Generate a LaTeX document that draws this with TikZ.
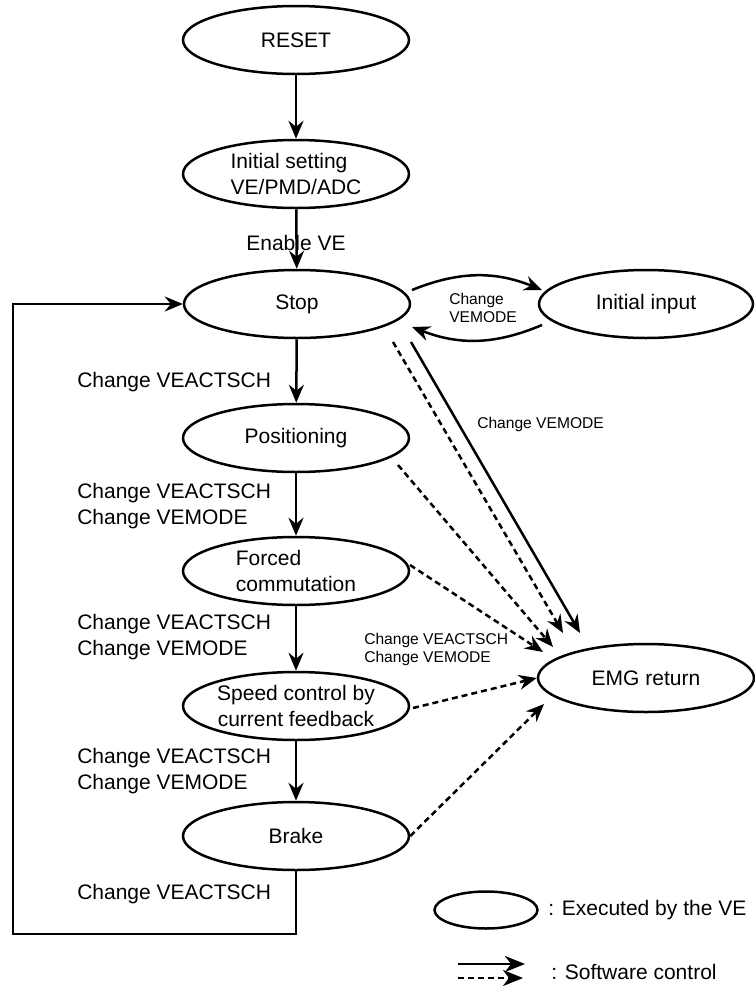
\documentclass[tikz,border=0pt]{standalone}
\usepackage{fontspec}
\setmainfont{Liberation Sans}
\usetikzlibrary{shapes.geometric,arrows.meta}
\begin{document}
\begin{tikzpicture}[x=0.5pt, y=-0.5pt, line width=1.25pt, >={Stealth[length=9pt,width=7.5pt,inset=3pt]},
  state/.style={draw, ellipse, minimum width=113pt, minimum height=34pt, inner sep=0pt, align=center, font=\fontsize{10.5}{13}\selectfont},
  lbl/.style={anchor=west, align=left, inner sep=0pt, font=\fontsize{10.5}{13}\selectfont},
  note/.style={anchor=west, align=left, inner sep=0pt, font=\fontsize{7.8}{9}\selectfont},
  sw/.style={dash pattern=on 3pt off 2pt}]
\useasboundingbox (0,0) rectangle (755,986);
% states
\node[state] (reset) at (296,40) {RESET};
\node[state, align=left] (init) at (296,174) {Initial setting\\VE/PMD/ADC};
\node[state] (stop) at (297,304) {Stop};
\node[state, minimum width=107pt] (input) at (646,304) {Initial input};
\node[state] (pos) at (296,438) {Positioning};
\node[state, align=left] (forced) at (296,571) {Forced\\commutation};
\node[state] (speed) at (296,706) {Speed control by\\current feedback};
\node[state] (brake) at (296,836) {Brake};
\node[state, minimum width=108pt] (emg) at (646,678) {EMG return};
% labels
\node[lbl, anchor=center] (en) at (296,243) {Enable VE};
\node[lbl] (l1) at (76,382) {Change VEACTSCH};
\node[lbl] (l2) at (76,506) {Change VEACTSCH\\Change VEMODE};
\node[lbl] (l3) at (76,637) {Change VEACTSCH\\Change VEMODE};
\node[lbl] (l4) at (76,771) {Change VEACTSCH\\Change VEMODE};
\node[lbl] (l5) at (76,894) {Change VEACTSCH};
\node[note] (n1) at (448,308) {Change\\VEMODE};
\node[note] (n2) at (476,424) {Change VEMODE};
\node[note] (n3) at (363,649) {Change VEACTSCH\\Change VEMODE};
% main flow
\draw[->] (reset) -- (init);
\draw[->] (init) -- (stop);
\draw[->] (stop) -- (pos);
\draw[->] (pos) -- (forced);
\draw[->] (forced) -- (speed);
\draw[->] (speed) -- (brake);
\coordinate (loop) at (13,934);
\draw[->] (brake.south) |- (loop) |- (stop.west);
% stop <-> initial input
\draw[->] ([shift={(115,-14)}]stop.center) to[bend left=22] ([shift={(-104,-14)}]input.center);
\draw[->] ([shift={(-104,21)}]input.center) to[bend left=22] ([shift={(115,23)}]stop.center);
% to EMG return
\draw[->] ([shift={(114,38)}]stop.center) -- ([shift={(-66,-45)}]emg.center);
\draw[->, sw] ([shift={(96,38)}]stop.center) -- ([shift={(-83,-45)}]emg.center);
\draw[->, sw] ([shift={(102,27)}]pos.center) -- ([shift={(-93,-31)}]emg.center);
\draw[->, sw] ([shift={(114,-6)}]forced.center) -- ([shift={(-103,-26)}]emg.center);
\draw[->, sw] ([shift={(117,2)}]speed.center) -- (emg.west);
\draw[->, sw] (brake.east) -- ([shift={(-102,26)}]emg.center);
% legend
\node[state, minimum width=51.5pt, minimum height=18.5pt] (key) at (486,910) {};
\node[lbl] (keytxt) at (547,910) {: Executed by the VE};
\coordinate (ka) at (458,964);
\coordinate (kb) at (525,964);
\coordinate (kc) at (458,978);
\coordinate (kd) at (523,978);
\draw[-{Stealth[length=10pt,width=8pt,inset=3pt]}] (ka) -- (kb);
\draw[-{Stealth[length=10pt,width=8pt,inset=3pt]}, sw] (kc) -- (kd);
\node[lbl] (swtxt) at (550,972) {: Software control};
\end{tikzpicture}
\end{document}
